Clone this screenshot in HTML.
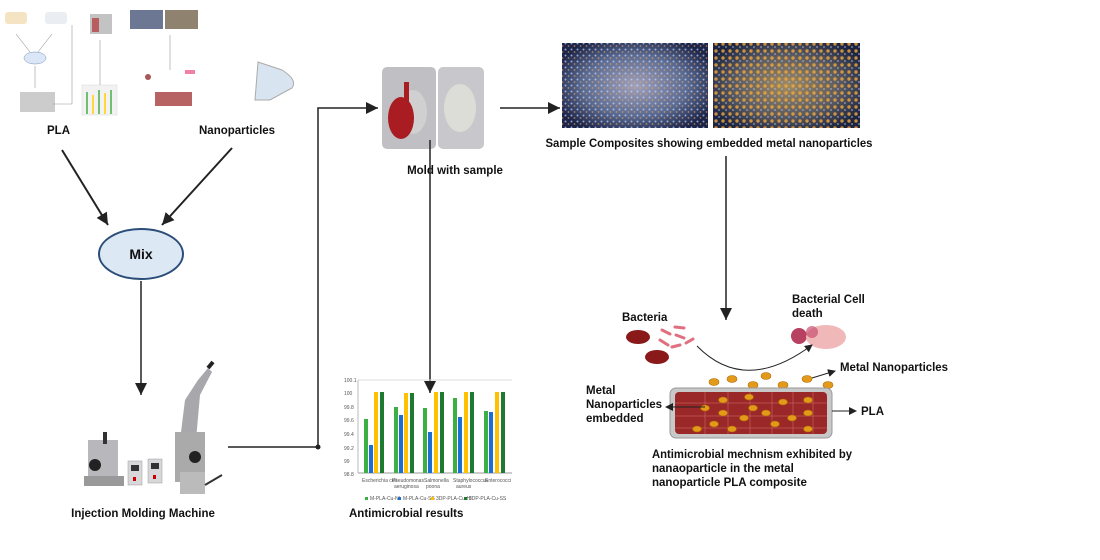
<!DOCTYPE html>
<html><head><meta charset="utf-8"><style>
html,body{margin:0;padding:0;background:#fff;}
svg{display:block;font-family:"Liberation Sans",sans-serif;}
.lb{font-weight:bold;font-size:11.5px;fill:#111;}
</style></head><body>
<svg width="1100" height="560" viewBox="0 0 1100 560">
<defs>
<marker id="ah" markerWidth="8" markerHeight="8" refX="7" refY="4" orient="auto" markerUnits="userSpaceOnUse"><path d="M0,0 L8,4 L0,8z" fill="#222"/></marker>
<marker id="ahb" markerWidth="14" markerHeight="14" refX="12" refY="7" orient="auto" markerUnits="userSpaceOnUse"><path d="M0,1 L12,7 L0,13z" fill="#222"/></marker>
<radialGradient id="mic" cx="50%" cy="50%" r="60%"><stop offset="0" stop-color="#a0a0b8"/><stop offset="0.6" stop-color="#5a6a90"/><stop offset="1" stop-color="#1c2448"/></radialGradient>
<radialGradient id="mic2" cx="50%" cy="50%" r="60%"><stop offset="0" stop-color="#a08a60"/><stop offset="0.6" stop-color="#5a5a60"/><stop offset="1" stop-color="#1c2440"/></radialGradient>
<pattern id="dots" width="6" height="6" patternUnits="userSpaceOnUse"><circle cx="1.5" cy="1.5" r="1" fill="#c8d8ff"/><circle cx="4.5" cy="4" r="0.9" fill="#e0a070"/></pattern>
<pattern id="dots2" width="7" height="7" patternUnits="userSpaceOnUse"><circle cx="2" cy="2" r="1.7" fill="#f0a840"/><circle cx="5" cy="5" r="0.9" fill="#a8b8e0"/></pattern>
</defs>

<!-- top-left thumbnail -->
<g opacity="0.75">
<rect x="5" y="12" width="22" height="12" rx="3" fill="#f2dcb0"/>
<rect x="45" y="12" width="22" height="12" rx="3" fill="#e4e8ee"/>
<line x1="16" y1="34" x2="30" y2="52" stroke="#777" stroke-width="0.6"/>
<line x1="52" y1="34" x2="38" y2="52" stroke="#777" stroke-width="0.6"/>
<ellipse cx="35" cy="58" rx="11" ry="6" fill="#cfe0f5" stroke="#4a6a9a" stroke-width="0.5"/>
<line x1="35" y1="66" x2="35" y2="88" stroke="#777" stroke-width="0.6"/>
<rect x="20" y="92" width="35" height="20" fill="#bbb"/>
<rect x="90" y="14" width="22" height="20" fill="#b0b0b0"/><rect x="92" y="18" width="7" height="14" fill="#a02a2a"/>
<rect x="130" y="10" width="33" height="19" fill="#3a4a70"/><rect x="165" y="10" width="33" height="19" fill="#6a5a40"/>
<rect x="82" y="85" width="35" height="30" fill="#eee" stroke="#ccc" stroke-width="0.5"/>
<rect x="86" y="92" width="2" height="22" fill="#4a4"/><rect x="92" y="95" width="2" height="19" fill="#fc0"/><rect x="98" y="90" width="2" height="24" fill="#4a4"/><rect x="104" y="93" width="2" height="21" fill="#fc0"/><rect x="110" y="90" width="2" height="24" fill="#4a4"/>
<rect x="155" y="92" width="37" height="14" fill="#a03030"/>
<line x1="53" y1="104" x2="72" y2="104" stroke="#777" stroke-width="0.6"/><line x1="72" y1="104" x2="72" y2="25" stroke="#777" stroke-width="0.6"/>
<line x1="100" y1="40" x2="100" y2="85" stroke="#777" stroke-width="0.6"/>
<line x1="170" y1="35" x2="170" y2="70" stroke="#777" stroke-width="0.6"/>
<circle cx="148" cy="77" r="3" fill="#8a2020"/><rect x="185" y="70" width="10" height="4" fill="#e58"/>
</g>
<!-- dish -->
<path d="M258,62 L282,70 Q298,80 292,88 L270,100 L255,100 Z" fill="#d8e4f0" stroke="#aaa" stroke-width="1"/>

<text class="lb" x="47" y="134">PLA</text>
<text class="lb" x="199" y="134">Nanoparticles</text>

<line x1="62" y1="150" x2="108" y2="225" stroke="#222" stroke-width="2" marker-end="url(#ahb)"/>
<line x1="232" y1="148" x2="162" y2="225" stroke="#222" stroke-width="2" marker-end="url(#ahb)"/>

<ellipse cx="141" cy="254" rx="42" ry="25" fill="#dde8f5" stroke="#2a4d7a" stroke-width="2"/>
<text x="141" y="259" text-anchor="middle" font-size="14" font-weight="bold" fill="#111">Mix</text>

<line x1="141" y1="281" x2="141" y2="395" stroke="#222" stroke-width="1.5" marker-end="url(#ahb)"/>

<!-- machine -->
<g>
<rect x="88" y="440" width="30" height="38" fill="#b8b8bc"/>
<rect x="84" y="476" width="40" height="10" fill="#999"/>
<rect x="103" y="432" width="4" height="12" fill="#333"/>
<circle cx="95" cy="465" r="6" fill="#222"/>
<rect x="128" y="461" width="14" height="24" fill="#d8d8da" stroke="#999" stroke-width="0.5"/><rect x="131" y="465" width="8" height="6" fill="#333"/><rect x="133" y="477" width="3" height="4" fill="#c00"/>
<rect x="148" y="459" width="14" height="24" fill="#d8d8da" stroke="#999" stroke-width="0.5"/><rect x="151" y="463" width="8" height="6" fill="#333"/><rect x="153" y="475" width="3" height="4" fill="#c00"/>
<path d="M180,440 L185,400 L198,380 L208,368 L212,372 L200,395 L196,440Z" fill="#a8a8ac"/>
<line x1="208" y1="368" x2="213" y2="362" stroke="#222" stroke-width="4"/>
<rect x="175" y="432" width="30" height="50" fill="#aaa"/>
<rect x="180" y="472" width="25" height="22" fill="#bbb"/>
<circle cx="195" cy="457" r="6" fill="#222"/>
<line x1="205" y1="485" x2="222" y2="475" stroke="#333" stroke-width="2"/>
</g>
<text class="lb" x="143" y="517" text-anchor="middle">Injection Molding Machine</text>

<polyline points="228,447 318,447 318,108 378,108" fill="none" stroke="#222" stroke-width="1.5" marker-end="url(#ahb)"/>
<circle cx="318" cy="447" r="2.5" fill="#222"/>

<!-- mold -->
<rect x="382" y="67" width="54" height="82" rx="5" fill="#c0c0c4"/>
<rect x="438" y="67" width="46" height="82" rx="5" fill="#c8c8cc"/>
<ellipse cx="460" cy="108" rx="16" ry="24" fill="#ddddd8"/>
<ellipse cx="413" cy="112" rx="14" ry="22" fill="#d0d0d0"/>
<ellipse cx="401" cy="118" rx="13" ry="21" fill="#a81c22"/>
<rect x="404" y="82" width="5" height="20" fill="#a81c22"/>
<text class="lb" x="455" y="174" text-anchor="middle">Mold with sample</text>

<line x1="430" y1="140" x2="430" y2="393" stroke="#222" stroke-width="1.5" marker-end="url(#ahb)"/>

<line x1="500" y1="108" x2="560" y2="108" stroke="#222" stroke-width="1.5" marker-end="url(#ahb)"/>

<!-- microscope -->
<rect x="562" y="43" width="146" height="85" fill="url(#mic)"/>
<rect x="562" y="43" width="146" height="85" fill="url(#dots)" opacity="0.7"/>
<rect x="713" y="43" width="147" height="85" fill="url(#mic2)"/>
<rect x="713" y="43" width="147" height="85" fill="url(#dots2)" opacity="0.8"/>
<text class="lb" x="709" y="147" text-anchor="middle" textLength="327" lengthAdjust="spacingAndGlyphs">Sample Composites showing embedded metal nanoparticles</text>

<line x1="726" y1="156" x2="726" y2="320" stroke="#222" stroke-width="1.5" marker-end="url(#ahb)"/>

<!-- chart -->
<g font-size="5" fill="#555">
<line x1="358" y1="380" x2="512" y2="380" stroke="#ddd"/>
<line x1="358" y1="473" x2="512" y2="473" stroke="#999"/>
<line x1="358" y1="380" x2="358" y2="473" stroke="#bbb"/>
<text x="344" y="382">100.1</text><text x="344" y="395">100</text><text x="344" y="409">99.8</text><text x="344" y="422">99.6</text><text x="344" y="436">99.4</text><text x="344" y="450">99.2</text><text x="344" y="463">99</text><text x="344" y="476">98.8</text>
<rect x="364" y="419" width="4" height="54" fill="#3cb043"/><rect x="369" y="445" width="4" height="28" fill="#1c6fd0"/><rect x="374" y="392" width="4" height="81" fill="#ffc000"/><rect x="380" y="392" width="4" height="81" fill="#1e7a2e"/>
<rect x="394" y="407" width="4" height="66" fill="#3cb043"/><rect x="399" y="415" width="4" height="58" fill="#1c6fd0"/><rect x="404" y="393" width="4" height="80" fill="#ffc000"/><rect x="410" y="393" width="4" height="80" fill="#1e7a2e"/>
<rect x="423" y="408" width="4" height="65" fill="#3cb043"/><rect x="428" y="432" width="4" height="41" fill="#1c6fd0"/><rect x="434" y="392" width="4" height="81" fill="#ffc000"/><rect x="440" y="392" width="4" height="81" fill="#1e7a2e"/>
<rect x="453" y="398" width="4" height="75" fill="#3cb043"/><rect x="458" y="417" width="4" height="56" fill="#1c6fd0"/><rect x="464" y="392" width="4" height="81" fill="#ffc000"/><rect x="470" y="392" width="4" height="81" fill="#1e7a2e"/>
<rect x="484" y="411" width="4" height="62" fill="#3cb043"/><rect x="489" y="412" width="4" height="61" fill="#1c6fd0"/><rect x="495" y="392" width="4" height="81" fill="#ffc000"/><rect x="501" y="392" width="4" height="81" fill="#1e7a2e"/>
<text x="362" y="482">Escherichia coli</text><text x="392" y="482">Pseudomonas</text><text x="394" y="488">aeruginosa</text><text x="424" y="482">Salmonella</text><text x="426" y="488">poona</text><text x="453" y="482">Staphylococcus</text><text x="456" y="488">aureus</text><text x="485" y="482">Enterococci</text>
<rect x="365" y="497" width="3" height="3" fill="#3cb043"/><text x="370" y="500">M-PLA-Cu-NL</text>
<rect x="398" y="497" width="3" height="3" fill="#1c6fd0"/><text x="403" y="500">M-PLA-Cu-SS</text>
<rect x="431" y="497" width="3" height="3" fill="#ffc000"/><text x="436" y="500">3DP-PLA-Cu-HI</text>
<rect x="464" y="497" width="3" height="3" fill="#1e7a2e"/><text x="469" y="500">3DP-PLA-Cu-SS</text>
</g>
<text class="lb" x="349" y="517">Antimicrobial results</text>

<!-- mechanism -->
<text class="lb" x="622" y="321">Bacteria</text>
<text class="lb" x="792" y="303">Bacterial Cell</text>
<text class="lb" x="792" y="317">death</text>
<ellipse cx="638" cy="337" rx="12" ry="7" fill="#8a1a1a"/>
<ellipse cx="657" cy="357" rx="12" ry="7" fill="#8a1a1a"/>
<g stroke="#e07080" stroke-width="3" stroke-linecap="round">
<line x1="662" y1="330" x2="670" y2="334"/><line x1="675" y1="327" x2="684" y2="328"/><line x1="676" y1="335" x2="684" y2="338"/><line x1="660" y1="340" x2="668" y2="345"/><line x1="672" y1="347" x2="680" y2="345"/><line x1="686" y1="343" x2="693" y2="339"/>
</g>
<circle cx="799" cy="336" r="8" fill="#b84060"/>
<ellipse cx="826" cy="337" rx="20" ry="12" fill="#f0b8b8"/>
<circle cx="812" cy="332" r="6" fill="#c85070" opacity="0.7"/>
<path d="M697,346 Q745,395 812,345" fill="none" stroke="#222" stroke-width="1" marker-end="url(#ah)"/>
<g fill="#e39a1a" stroke="#b06a00" stroke-width="0.6">
<ellipse cx="714" cy="382" rx="5" ry="3.5"/><ellipse cx="732" cy="379" rx="5" ry="3.5"/><ellipse cx="753" cy="385" rx="5" ry="3.5"/><ellipse cx="766" cy="376" rx="5" ry="3.5"/><ellipse cx="783" cy="385" rx="5" ry="3.5"/><ellipse cx="807" cy="379" rx="5" ry="3.5"/><ellipse cx="828" cy="385" rx="5" ry="3.5"/>
</g>
<line x1="812" y1="378" x2="835" y2="371" stroke="#222" stroke-width="1" marker-end="url(#ah)"/>
<text class="lb" x="840" y="371" textLength="108" lengthAdjust="spacingAndGlyphs">Metal Nanoparticles</text>
<rect x="670" y="388" width="162" height="50" rx="6" fill="#c8c8c8" stroke="#999"/>
<rect x="675" y="392" width="152" height="42" rx="4" fill="#9a2828"/>
<g stroke="#d07070" stroke-width="0.5">
<line x1="675" y1="403" x2="827" y2="403"/><line x1="675" y1="416" x2="827" y2="416"/><line x1="675" y1="428" x2="827" y2="428"/>
<line x1="705" y1="392" x2="705" y2="434"/><line x1="728" y1="392" x2="728" y2="434"/><line x1="750" y1="392" x2="750" y2="434"/><line x1="772" y1="392" x2="772" y2="434"/><line x1="793" y1="392" x2="793" y2="434"/><line x1="813" y1="392" x2="813" y2="434"/>
</g>
<g fill="#e39a1a" stroke="#b06a00" stroke-width="0.6">
<ellipse cx="723" cy="400" rx="4.5" ry="3"/><ellipse cx="749" cy="397" rx="4.5" ry="3"/><ellipse cx="783" cy="402" rx="4.5" ry="3"/><ellipse cx="808" cy="400" rx="4.5" ry="3"/>
<ellipse cx="705" cy="408" rx="4.5" ry="3"/><ellipse cx="753" cy="408" rx="4.5" ry="3"/><ellipse cx="723" cy="413" rx="4.5" ry="3"/><ellipse cx="766" cy="413" rx="4.5" ry="3"/><ellipse cx="808" cy="413" rx="4.5" ry="3"/>
<ellipse cx="744" cy="418" rx="4.5" ry="3"/><ellipse cx="792" cy="418" rx="4.5" ry="3"/><ellipse cx="714" cy="424" rx="4.5" ry="3"/><ellipse cx="775" cy="424" rx="4.5" ry="3"/>
<ellipse cx="697" cy="429" rx="4.5" ry="3"/><ellipse cx="732" cy="429" rx="4.5" ry="3"/><ellipse cx="808" cy="429" rx="4.5" ry="3"/>
</g>
<line x1="705" y1="407" x2="666" y2="407" stroke="#222" stroke-width="1" marker-end="url(#ah)"/>
<text class="lb" x="586" y="394">Metal</text>
<text class="lb" x="586" y="408">Nanoparticles</text>
<text class="lb" x="586" y="422">embedded</text>
<line x1="832" y1="411" x2="856" y2="411" stroke="#222" stroke-width="1" marker-end="url(#ah)"/>
<text class="lb" x="861" y="415">PLA</text>
<text class="lb" x="652" y="458" textLength="200" lengthAdjust="spacingAndGlyphs">Antimicrobial mechnism exhibited by</text>
<text class="lb" x="652" y="472">nanaoparticle in the metal</text>
<text class="lb" x="652" y="486">nanoparticle PLA composite</text>
</svg>
</body></html>
